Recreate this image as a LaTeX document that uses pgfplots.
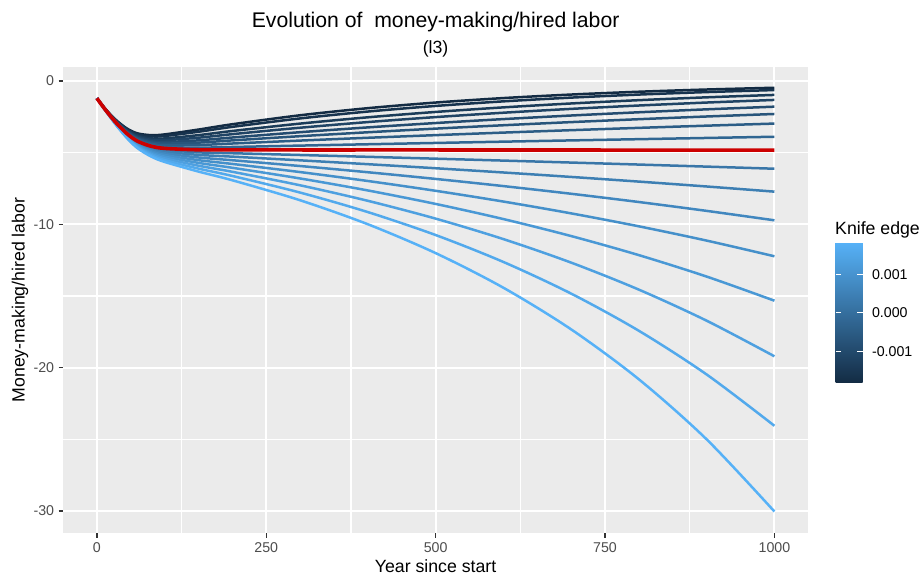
\documentclass[border=0pt]{standalone}
\usepackage{fontspec}
\setmainfont{Liberation Sans}
\usepackage{pgfplots}
\usepackage{pgfplotstable}
\pgfplotsset{compat=1.18}
\definecolor{panelbg}{HTML}{EBEBEB}
\definecolor{tickgray}{HTML}{4D4D4D}
\definecolor{tickdark}{HTML}{333333}
\definecolor{lo}{HTML}{132B43}
\definecolor{hi}{HTML}{56B1F7}
\definecolor{ggred}{RGB}{204,0,0}

\pgfplotstableread{
t    c1     c2     c3     c4     c5     c6     c7     c8     red    c10    c11    c12    c13     c14     c15     c16     c17
0    -1.2   -1.2   -1.2   -1.2   -1.2   -1.2   -1.2   -1.2   -1.2   -1.2   -1.2   -1.2   -1.2    -1.2    -1.2    -1.2    -1.2
10   -1.807 -1.813 -1.821 -1.826 -1.832 -1.836 -1.841 -1.846 -1.85  -1.854 -1.859 -1.863 -1.867  -1.872  -1.876  -1.880  -1.884
20   -2.339 -2.352 -2.373 -2.388 -2.402 -2.414 -2.427 -2.440 -2.45  -2.462 -2.473 -2.485 -2.496  -2.508  -2.519  -2.530  -2.542
30   -2.798 -2.823 -2.859 -2.886 -2.913 -2.934 -2.957 -2.981 -3.0   -3.022 -3.043 -3.064 -3.085  -3.106  -3.128  -3.149  -3.170
45   -3.333 -3.377 -3.443 -3.491 -3.539 -3.579 -3.621 -3.665 -3.7   -3.741 -3.780 -3.819 -3.859  -3.898  -3.938  -3.978  -4.018
60   -3.653 -3.718 -3.816 -3.887 -3.959 -4.019 -4.081 -4.147 -4.2   -4.262 -4.321 -4.382 -4.442  -4.503  -4.565  -4.627  -4.689
80   -3.778 -3.868 -4.004 -4.104 -4.205 -4.290 -4.379 -4.474 -4.55  -4.639 -4.726 -4.814 -4.903  -4.993  -5.084  -5.176  -5.269
100  -3.725 -3.836 -4.006 -4.131 -4.259 -4.366 -4.480 -4.602 -4.7   -4.816 -4.929 -5.044 -5.161  -5.279  -5.399  -5.522  -5.646
150  -3.387 -3.540 -3.776 -3.955 -4.140 -4.298 -4.467 -4.651 -4.8   -4.978 -5.154 -5.336 -5.523  -5.713  -5.910  -6.113  -6.320
200  -3.016 -3.198 -3.486 -3.708 -3.941 -4.143 -4.361 -4.603 -4.8   -5.039 -5.278 -5.528 -5.787  -6.055  -6.335  -6.626  -6.927
300  -2.390 -2.610 -2.971 -3.259 -3.571 -3.849 -4.156 -4.507 -4.81  -5.163 -5.535 -5.932 -6.354  -6.800  -7.277  -7.785  -8.321
400  -1.895 -2.130 -2.532 -2.864 -3.236 -3.576 -3.961 -4.413 -4.81  -5.290 -5.804 -6.366 -6.977  -7.637  -8.360  -9.147  -9.996
500  -1.502 -1.739 -2.158 -2.517 -2.932 -3.322 -3.776 -4.322 -4.81  -5.420 -6.087 -6.832 -7.661  -8.577  -9.603  -10.748 -12.009
600  -1.190 -1.419 -1.839 -2.212 -2.657 -3.086 -3.599 -4.232 -4.815 -5.553 -6.383 -7.332 -8.412  -9.633  -11.032 -12.627 -14.426
700  -0.944 -1.158 -1.567 -1.944 -2.407 -2.867 -3.430 -4.144 -4.815 -5.690 -6.693 -7.868 -9.236  -10.819 -12.673 -14.835 -17.330
800  -0.748 -0.945 -1.336 -1.709 -2.181 -2.664 -3.269 -4.058 -4.82  -5.830 -7.019 -8.444 -10.141 -12.151 -14.559 -17.431 -20.818
900  -0.593 -0.772 -1.138 -1.502 -1.976 -2.475 -3.116 -3.973 -4.82  -5.973 -7.360 -9.062 -11.136 -13.647 -16.726 -20.480 -25.008
1000 -0.47  -0.63  -0.97  -1.32  -1.79  -2.30  -2.97  -3.89  -4.82  -6.12  -7.72  -9.72  -12.23  -15.33  -19.21  -24.06  -30.04
}\curves

\newcommand{\tickfont}{\fontsize{14.2bp}{16bp}\selectfont}
\newcommand{\labfont}{\fontsize{17.7bp}{20bp}\selectfont}
\newcommand{\titfont}{\fontsize{21.2bp}{24bp}\selectfont}

\begin{document}
\begin{tikzpicture}[x=1bp,y=1bp]
\useasboundingbox (0,0) rectangle (922,583);
\begin{axis}[
  at={(63bp,49.7bp)}, anchor=south west,
  scale only axis, width=745.3bp, height=466.6bp,
  xmin=-50, xmax=1050, ymin=-31.56, ymax=1.0,
  axis background/.style={fill=panelbg},
  axis line style={draw=none},
  xtick={0,250,500,750,1000}, xticklabels={0,250,500,750,1000},
  ytick={-30,-20,-10,0}, yticklabels={-30,-20,-10,0},
  minor x tick num=1, minor y tick num=1,
  grid=both,
  major grid style={white, line width=2.1bp},
  minor grid style={white, line width=1.1bp},
  minor tick length=0pt,
  tick align=outside, major tick length=4.4bp,
  xtick pos=bottom, ytick pos=left,
  major tick style={color=tickdark, line width=1.5bp},
  ticklabel style={font=\tickfont, text=tickgray},
  xticklabel style={yshift=-1bp},
  yticklabel style={xshift=-1bp},
  colormap={gg}{rgb255=(19,43,67) rgb255=(86,177,247)},
  point meta min=-0.00182, point meta max=0.00182,
  colorbar,
  colorbar/width=27bp,
  colorbar style={
    at={(parent axis.south east)}, anchor=south west,
    xshift=18.7bp, yshift=150.3bp,
    scale only axis, width=27bp, height=140bp,
    ytick={-0.001,0,0.001}, yticklabels={-0.001,0.000,0.001},
    scaled y ticks=false,
    axis line style={draw=none},
    ytick pos=both, yticklabel pos=right,
    tick align=inside, major tick length=5.4bp,
    major tick style={white, line width=1bp},
    yticklabel style={font=\tickfont, text=black, xshift=6bp},
  },
  curve/.style={smooth, line width=2.5bp},
]
\addplot[curve, color=hi!0!lo]     table[x=t,y=c1]  {\curves};
\addplot[curve, color=hi!6.25!lo]  table[x=t,y=c2]  {\curves};
\addplot[curve, color=hi!12.5!lo]  table[x=t,y=c3]  {\curves};
\addplot[curve, color=hi!18.75!lo] table[x=t,y=c4]  {\curves};
\addplot[curve, color=hi!25!lo]    table[x=t,y=c5]  {\curves};
\addplot[curve, color=hi!31.25!lo] table[x=t,y=c6]  {\curves};
\addplot[curve, color=hi!37.5!lo]  table[x=t,y=c7]  {\curves};
\addplot[curve, color=hi!43.75!lo] table[x=t,y=c8]  {\curves};
\addplot[curve, color=hi!56.25!lo] table[x=t,y=c10] {\curves};
\addplot[curve, color=hi!62.5!lo]  table[x=t,y=c11] {\curves};
\addplot[curve, color=hi!68.75!lo] table[x=t,y=c12] {\curves};
\addplot[curve, color=hi!75!lo]    table[x=t,y=c13] {\curves};
\addplot[curve, color=hi!81.25!lo] table[x=t,y=c14] {\curves};
\addplot[curve, color=hi!87.5!lo]  table[x=t,y=c15] {\curves};
\addplot[curve, color=hi!93.75!lo] table[x=t,y=c16] {\curves};
\addplot[curve, color=hi!100!lo]   table[x=t,y=c17] {\curves};
\addplot[curve, color=ggred, line width=3.6bp] table[x=t,y=red] {\curves};
\end{axis}
\node[anchor=base, font=\titfont] at (435.6,555) {Evolution of\ \ money-making/hired labor};
\node[anchor=base, font=\labfont] at (435.6,529) {(l3)};
\node[anchor=base, font=\labfont] at (435.6,10) {Year since start};
\node[rotate=90, font=\labfont] at (20,283) {Money-making/hired labor};
\node[anchor=base west, font=\labfont, inner sep=0pt] at (835,348.5) {Knife edge};
\end{tikzpicture}
\end{document}
